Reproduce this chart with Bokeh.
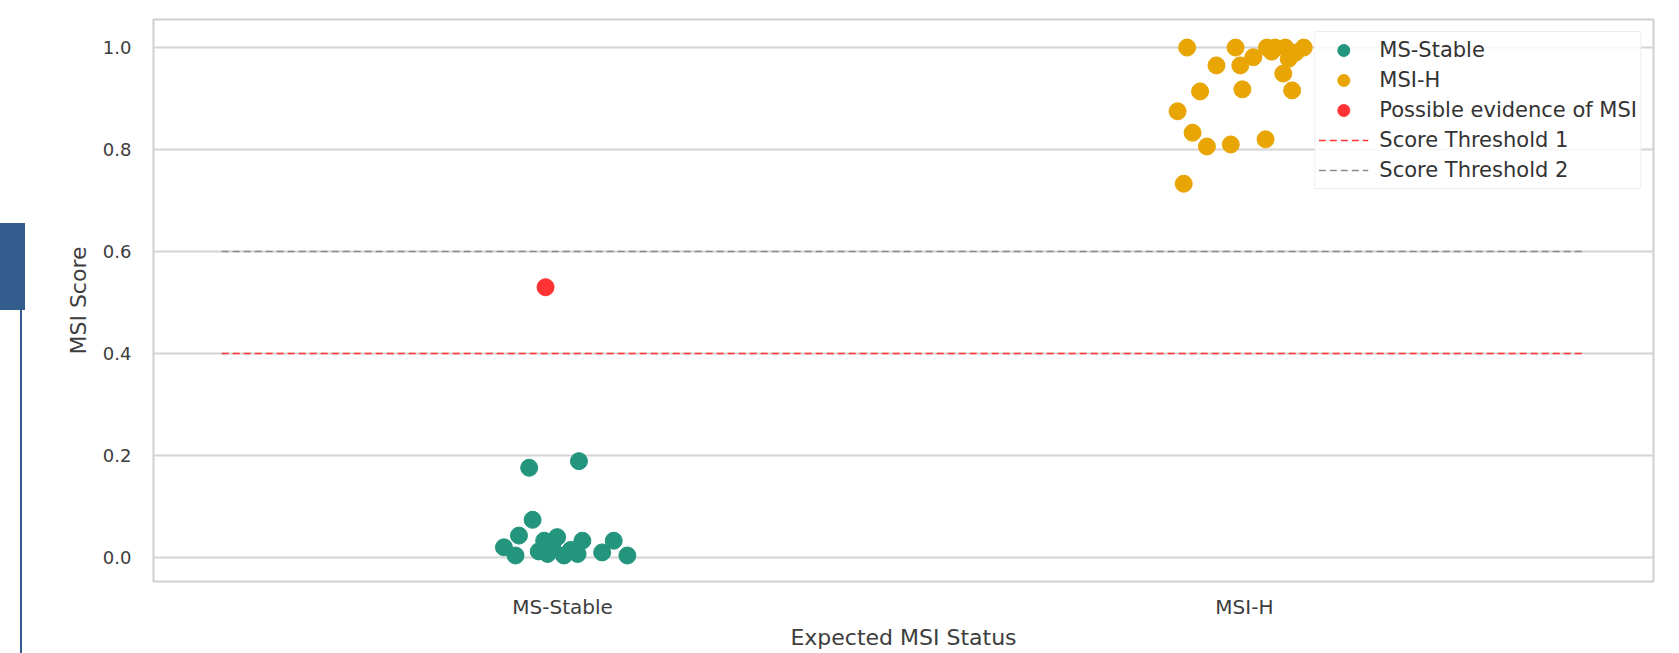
from bokeh.plotting import figure
from bokeh.models import FixedTicker, Legend, LegendItem, Div
from bokeh.layouts import row
from bokeh.embed import file_html
from bokeh.resources import INLINE

# ---------------- data ----------------
categories = ["MS-Stable", "MSI-H"]
category_positions = [0, 1]

ms_stable_x = [-0.049, 0.024, -0.044, -0.064, -0.086, -0.069, -0.027, -0.008,
               -0.022, 0.002, 0.022, 0.029, -0.015, 0.058, 0.075, 0.095,
               -0.035, 0.012]
ms_stable_y = [0.176, 0.189, 0.074, 0.043, 0.020, 0.004, 0.033, 0.040,
               0.007, 0.004, 0.007, 0.033, 0.020, 0.010, 0.033, 0.004,
               0.012, 0.015]

msi_h_x = [0.916, 0.987, 0.959, 0.994, 1.013, 1.033, 1.045, 1.060, 1.087,
           1.065, 1.057, 1.070, 0.935, 0.997, 0.902, 0.924, 0.945, 0.980,
           1.031, 0.911, 1.040, 1.075]
msi_h_y = [1.000, 1.000, 0.965, 0.965, 0.981, 1.000, 1.000, 1.000, 1.000,
           0.978, 0.949, 0.916, 0.914, 0.918, 0.875, 0.833, 0.806, 0.810,
           0.820, 0.733, 0.992, 0.990]

evidence_x = [-0.025]
evidence_y = [0.530]

threshold_1 = 0.4
threshold_2 = 0.6
threshold_x_extent = [-0.5, 1.5]

y_ticks = [0.0, 0.2, 0.4, 0.6, 0.8, 1.0]

# ---------------- styling ----------------
TEAL = "#23957d"
ORANGE = "#e8a503"
RED = "#ff3333"
GRAY = "#8a8a8a"
FONT = "DejaVu Sans"
TEXT = "#3d3d3d"

p = figure(width=1654, height=653, x_range=(-0.6, 1.6), y_range=(-0.047, 1.055),
           output_backend="svg", toolbar_location=None,
           min_border_left=128, min_border_right=26, min_border_top=19,
           min_border_bottom=72)
p.margin = (0, 0, 0, 0)

p.background_fill_color = "white"
p.border_fill_color = "white"
p.outline_line_color = "#cfcfcf"
p.outline_line_width = 2

# axes
p.xaxis.ticker = FixedTicker(ticks=category_positions)
p.xaxis.major_label_overrides = {pos: lab for pos, lab in zip(category_positions, categories)}
p.yaxis.ticker = FixedTicker(ticks=y_ticks)
p.yaxis.major_label_overrides = {t: f"{t:.1f}" for t in y_ticks}
for ax in (p.xaxis[0], p.yaxis[0]):
    ax.axis_line_color = None
    ax.major_tick_line_color = None
    ax.minor_tick_line_color = None
    ax.major_tick_out = 0
    ax.major_tick_in = 0
    ax.minor_tick_out = 0
    ax.major_label_text_font = FONT
    ax.major_label_text_color = TEXT
    ax.axis_label_text_font = FONT
    ax.axis_label_text_font_size = "22px"
    ax.axis_label_text_font_style = "normal"
    ax.axis_label_text_color = TEXT
p.xaxis.major_label_text_font_size = "20px"
p.yaxis.major_label_text_font_size = "18px"
p.xaxis.axis_label = "Expected MSI Status"
p.yaxis.axis_label = "MSI Score"
p.xaxis.major_label_standoff = 13
p.xaxis.axis_label_standoff = 3
p.yaxis.major_label_standoff = 22
p.yaxis.axis_label_standoff = 9

p.xgrid.grid_line_color = None
p.ygrid.grid_line_color = "#d4d4d4"
p.ygrid.grid_line_width = 2

# threshold lines
r_t1 = p.line(x=threshold_x_extent, y=[threshold_1, threshold_1],
              line_color=RED, line_dash="7 4", line_width=1.6)
r_t2 = p.line(x=threshold_x_extent, y=[threshold_2, threshold_2],
              line_color=GRAY, line_dash="7 4", line_width=1.6)

# points
r_ms = p.scatter(x=ms_stable_x, y=ms_stable_y, size=17, color=TEAL, line_color=TEAL)
r_msi = p.scatter(x=msi_h_x, y=msi_h_y, size=17, color=ORANGE, line_color=ORANGE)
r_ev = p.scatter(x=evidence_x, y=evidence_y, size=17, color=RED, line_color=RED)

legend = Legend(items=[
    LegendItem(label="MS-Stable", renderers=[r_ms]),
    LegendItem(label="MSI-H", renderers=[r_msi]),
    LegendItem(label="Possible evidence of MSI", renderers=[r_ev]),
    LegendItem(label="Score Threshold 1", renderers=[r_t1]),
    LegendItem(label="Score Threshold 2", renderers=[r_t2]),
], location="top_right")
legend.margin = 12
legend.padding = 3
legend.spacing = 0
legend.label_height = 30
legend.glyph_height = 30
legend.glyph_width = 50
legend.label_standoff = 11
legend.label_text_font = FONT
legend.label_text_font_size = "21px"
legend.label_text_color = "#333333"
legend.background_fill_color = "white"
legend.background_fill_alpha = 0.8
legend.border_line_color = "#dddddd"
legend.border_line_width = 1.5
p.add_layout(legend, "center")

# decorative fragment at the left edge of the picture
frag = Div(width=25, height=653, margin=(0, 0, 0, 0), text=(
    '<div style="position:relative;width:25px;height:653px;margin:0;padding:0;">'
    '<div style="position:absolute;left:0px;top:223px;width:25px;height:87px;background:#335d8c;"></div>'
    '<div style="position:absolute;left:20px;top:309px;width:2px;height:344px;background:#335d8c;"></div>'
    '</div>'))

layout = row(frag, p, spacing=0)
layout.margin = (0, 0, 0, 0)
open("out.html", "w").write(file_html(layout, INLINE))
